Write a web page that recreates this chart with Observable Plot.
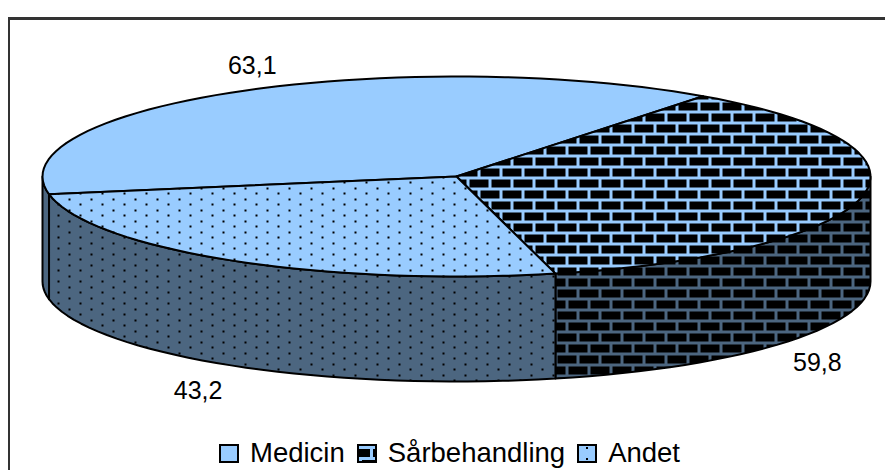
<!DOCTYPE html>
<html>
<head>
<meta charset="utf-8">
<script src="https://cdn.jsdelivr.net/npm/d3@7"></script>
<script src="https://cdn.jsdelivr.net/npm/@observablehq/plot@0.6"></script>
<style>
  html, body { margin: 0; padding: 0; background: #fff; width: 885px; height: 470px; overflow: hidden; }
  body { position: relative; font-family: "Liberation Sans", Arial, sans-serif; }
  #frame { position: absolute; left: 8px; top: 17px; right: 0; bottom: 0; border-left: 2px solid #333; border-top: 3px solid #333; }
  #chart { position: absolute; left: 0; top: 0; }
  #legend { position: absolute; left: 219px; top: 436px; height: 34px; display: flex; align-items: center; font-size: 27.5px; color: #000; white-space: nowrap; }
  #legend svg { display: block; margin-right: 11px; }
  #legend span { margin-right: 12px; }
</style>
</head>
<body>
<div id="frame"></div>
<div id="chart"></div>
<div id="legend"></div>
<script>
const categories = ["Medicin", "Sårbehandling", "Andet"];
const values = [63.1, 59.8, 43.2];
const valueLabels = ["63,1", "59,8", "43,2"];

// Drawing settings
const startDegrees = 259.8;
const depth = 1.05;
const lightBlue = "#99ccff";
const wallBlue = "#4c6680";
const topFills = ["#99ccff", "url(#brickTop)", "url(#dotTop)"];
const wallFills = ["#4c6680", "url(#brickWall)", "url(#dotWall)"];
const swatchFills = ["#99ccff", "url(#brickKey)", "url(#dotKey)"];
const labelOffsets = [[14, -26], [-45, 62], [-33, 26]];

const rad = d => d * Math.PI / 180;
const arcs = d3.pie().sort(null)
  .startAngle(rad(startDegrees)).endAngle(rad(startDegrees + 360))(values);

const step = rad(2.5);
function arcPoints(a0, a1, drop = 0) {
  const pts = [];
  const n = Math.max(1, Math.ceil((a1 - a0) / step));
  for (let i = 0; i <= n; ++i) {
    const a = a0 + (a1 - a0) * i / n;
    pts.push({x: Math.sin(a), y: Math.cos(a) - drop});
  }
  return pts;
}
function sector(a) {
  return [{x: 0, y: 0}, ...arcPoints(a.startAngle, a.endAngle), {x: 0, y: 0}];
}
// The front half of the rim is the part of the circle from 90 to 270 degrees, one turn on as well.
function wall(a) {
  for (const turn of [0, 360]) {
    const a0 = Math.max(a.startAngle, rad(90 + turn));
    const a1 = Math.min(a.endAngle, rad(270 + turn));
    if (a1 > a0) {
      const upper = arcPoints(a0, a1);
      const lower = arcPoints(a0, a1, depth).reverse();
      return [...upper, ...lower, upper[0]];
    }
  }
  return null;
}

function patterns() {
  const defs = d3.create("svg:defs");
  const brick = (id, mortar, ox, oy) => {
    const p = defs.append("pattern").attr("id", id).attr("patternUnits", "userSpaceOnUse")
      .attr("x", ox).attr("y", oy).attr("width", 22).attr("height", 22);
    p.append("rect").attr("width", 22).attr("height", 22).attr("fill", mortar);
    p.append("rect").attr("x", 0).attr("y", 0).attr("width", 19).attr("height", 8).attr("fill", "#000");
    p.append("rect").attr("x", 11).attr("y", 11).attr("width", 19).attr("height", 8).attr("fill", "#000");
    p.append("rect").attr("x", -11).attr("y", 11).attr("width", 19).attr("height", 8).attr("fill", "#000");
  };
  const dots = (id, bg, ox, oy) => {
    const p = defs.append("pattern").attr("id", id).attr("patternUnits", "userSpaceOnUse")
      .attr("x", ox).attr("y", oy).attr("width", 22).attr("height", 11);
    p.append("rect").attr("width", 22).attr("height", 11).attr("fill", bg);
    p.append("rect").attr("x", 0).attr("y", 0).attr("width", 2).attr("height", 2).attr("fill", "#000");
    p.append("rect").attr("x", 11).attr("y", 5).attr("width", 2).attr("height", 2).attr("fill", "#000");
  };
  brick("brickTop", lightBlue, 7, 3);
  brick("brickWall", wallBlue, 7, 3);
  brick("brickKey", lightBlue, 16, 5);
  dots("dotTop", lightBlue, 2, 0);
  dots("dotWall", wallBlue, 2, 0);
  dots("dotKey", lightBlue, 9, 3);
  return defs.node();
}

const outline = {stroke: "#000", strokeWidth: 2, strokeLinejoin: "round", curve: "linear"};
const marks = [patterns];
arcs.forEach((a, i) => {
  const w = wall(a);
  if (w) marks.push(Plot.line(w, {x: "x", y: "y", fill: wallFills[i], ...outline}));
});
arcs.forEach((a, i) => {
  marks.push(Plot.line(sector(a), {x: "x", y: "y", fill: topFills[i], ...outline}));
});
arcs.forEach((a, i) => {
  const mid = (a.startAngle + a.endAngle) / 2;
  const onWall = Math.cos(mid) < 0 || Math.sin(mid) > 0.9;
  marks.push(Plot.text([valueLabels[i]], {
    x: () => Math.sin(mid),
    y: () => Math.cos(mid) - (onWall ? depth : 0),
    text: d => d,
    dx: labelOffsets[i][0],
    dy: labelOffsets[i][1],
    fontSize: 25,
    fill: "#000",
    textAnchor: "middle"
  }));
});

const plot = Plot.plot({
  width: 885,
  height: 436,
  margin: 0,
  style: {background: "transparent", fontFamily: "'Liberation Sans', Arial, sans-serif", overflow: "visible"},
  x: {domain: [-1, 1], range: [42, 870], axis: null},
  y: {domain: [-1, 1], range: [276, 76], axis: null},
  marks
});
document.getElementById("chart").append(plot);

const legend = document.getElementById("legend");
categories.forEach((c, i) => {
  const s = d3.create("svg").attr("width", 20).attr("height", 19);
  s.append("rect").attr("x", 1).attr("y", 1).attr("width", 18).attr("height", 17)
    .attr("fill", swatchFills[i]).attr("stroke", "#000").attr("stroke-width", 2);
  legend.append(s.node());
  const t = document.createElement("span");
  t.textContent = c;
  legend.append(t);
});
</script>
</body>
</html>
